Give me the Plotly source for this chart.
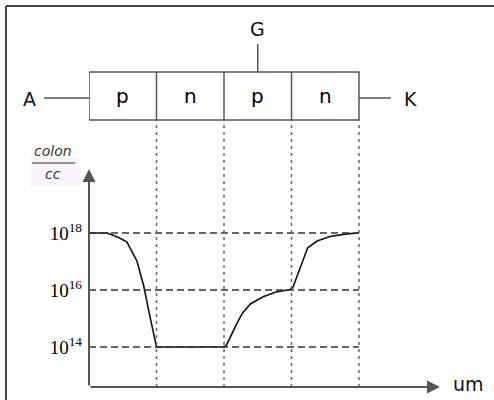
import plotly.graph_objects as go

# ---- data ----
regions = ["p", "n", "p", "n"]
region_edges = [0, 1, 2, 3, 4]                 # schematic depth units (um)
terminals = ["A", "G", "K"]
tick_exp = [14, 16, 18]                         # log10(carriers / cc)
tick_text = ["10<sup>14</sup>", "10<sup>16</sup>", "10<sup>18</sup>"]

depth = [0.0, 0.27, 0.43, 0.56, 0.71, 0.81, 0.90, 1.0, 2.0, 2.04, 2.19, 2.27,
         2.39, 2.58, 2.76, 2.98, 3.02, 3.13, 3.24, 3.38, 3.57, 3.82, 4.0]
log_conc = [18.0, 18.0, 17.85, 17.69, 17.02, 16.15, 15.10, 14.0, 14.0, 14.08,
            14.82, 15.18, 15.51, 15.76, 15.92, 16.02, 16.09, 16.77, 17.48,
            17.72, 17.88, 17.97, 18.0]

W, H = 494, 400
def px(x): return x / W
def py(y): return 1 - y / H

fig = go.Figure()
fig.add_trace(go.Scatter(x=depth, y=log_conc, mode="lines",
                         line=dict(color="#111", width=1.6), hoverinfo="skip"))

shapes = []
axc = "#555"
# outer frame (top and left visible)
shapes.append(dict(type="line", xref="paper", yref="paper", x0=px(6), x1=1.0, y0=py(6), y1=py(6), line=dict(color="#444", width=2)))
shapes.append(dict(type="line", xref="paper", yref="paper", x0=px(6), x1=px(6), y0=py(6), y1=0, line=dict(color="#444", width=2)))

# device box
box_top, box_bot = py(72), py(120)
shapes.append(dict(type="rect", xref="x", yref="paper", x0=region_edges[0], x1=region_edges[-1],
                   y0=box_bot, y1=box_top, line=dict(color=axc, width=1.5)))
for e in region_edges[1:-1]:
    shapes.append(dict(type="line", xref="x", yref="paper", x0=e, x1=e, y0=box_bot, y1=box_top,
                       line=dict(color=axc, width=1.5)))
# leads
lead_y = py(98)
shapes.append(dict(type="line", xref="paper", yref="paper", x0=px(44), x1=px(89), y0=lead_y, y1=lead_y, line=dict(color=axc, width=1.5)))
shapes.append(dict(type="line", xref="paper", yref="paper", x0=px(359), x1=px(391), y0=lead_y, y1=lead_y, line=dict(color=axc, width=1.5)))
shapes.append(dict(type="line", xref="x", yref="paper", x0=2.5, x1=2.5, y0=box_top, y1=py(44), line=dict(color=axc, width=1.5)))

# horizontal dashed guides
for t in tick_exp:
    shapes.append(dict(type="line", xref="x", yref="y", x0=region_edges[0], x1=region_edges[-1], y0=t, y1=t,
                       line=dict(color="#333", width=1.5, dash="7px,4px")))
# vertical dotted guides
for e in region_edges[1:]:
    shapes.append(dict(type="line", xref="x", yref="paper", x0=e, x1=e, y0=py(387), y1=box_bot,
                       line=dict(color="#666", width=1.5, dash="3px,4px")))

# unit label background
shapes.append(dict(type="rect", xref="paper", yref="paper", x0=px(30), x1=px(80), y0=py(186), y1=py(158),
                   fillcolor="#fbf4fb", line=dict(width=0), layer="below"))
shapes.append(dict(type="line", xref="paper", yref="paper", x0=px(32), x1=px(75), y0=py(163), y1=py(163),
                   line=dict(color="#333", width=1.2)))

ann = []
sans = "DejaVu Sans"
def label(x, y, text, size, xref="paper", color="#111", family=sans):
    ann.append(dict(x=x, y=y, xref=xref, yref="paper", text=text, showarrow=False,
                    xanchor="center", yanchor="middle",
                    font=dict(family=family, size=size, color=color)))

for i, r in enumerate(regions):
    label((region_edges[i] + region_edges[i + 1]) / 2, py(96), r, 20, xref="x", color="#000")
label(px(29), py(99), terminals[0], 19)
label(2.5, py(29), terminals[1], 19, xref="x")
label(px(410), py(99), terminals[2], 19)
label(px(468), py(384), "um", 19)
label(px(53), py(151), "<i>colon</i>", 14, color="#333")
label(px(53), py(174), "<i>cc</i>", 14, color="#333")

# axes with arrowheads
ann.append(dict(x=0, y=1, xref="x", yref="y domain", ax=0, ay=218, axref="pixel", ayref="pixel",
                showarrow=True, arrowhead=2, arrowsize=1.3, arrowwidth=2, arrowcolor=axc, text=""))
ann.append(dict(x=1, y=0, xref="x domain", yref="y domain", ax=-351, ay=0,
                showarrow=True, arrowhead=2, arrowsize=1.3, arrowwidth=2, arrowcolor=axc, text=""))

x_range = [0, 5.2]
y_range = [12.596, 20.246]
fig.update_layout(
    width=W, height=H, margin=dict(l=0, r=0, t=0, b=0),
    paper_bgcolor="white", plot_bgcolor="white", showlegend=False,
    shapes=shapes, annotations=ann,
    xaxis=dict(domain=[px(89), px(440)], range=x_range, showgrid=False, zeroline=False,
               showline=False, showticklabels=False, ticks=""),
    yaxis=dict(domain=[py(387), py(169)], range=y_range, showgrid=False, zeroline=False,
               showline=False, tickvals=tick_exp, ticktext=tick_text, ticks="",
               ticklabelstandoff=6,
               tickfont=dict(family="Liberation Serif", size=19, color="#000")),
)
fig.write_html("out.html", config={"displayModeBar": False},
               post_script="document.body.style.margin='0px';")
